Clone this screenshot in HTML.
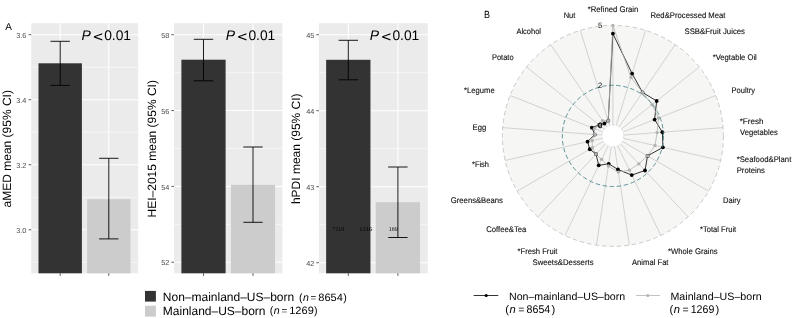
<!DOCTYPE html><html><head><meta charset="utf-8"><style>html,body{margin:0;padding:0;background:#fff;}svg{display:block;}text{font-family:"Liberation Sans", Arial, sans-serif;text-rendering:geometricPrecision;}</style></head><body>
<svg width="794" height="318" viewBox="0 0 794 318">
<rect width="794" height="318" fill="#fff"/>
<rect x="31.2" y="23.2" width="107.00" height="250.10" fill="#EBEBEB"/>
<line x1="31.2" x2="138.2" y1="67.21" y2="67.21" stroke="#fff" stroke-width="0.55"/>
<line x1="31.2" x2="138.2" y1="132.23" y2="132.23" stroke="#fff" stroke-width="0.55"/>
<line x1="31.2" x2="138.2" y1="197.25" y2="197.25" stroke="#fff" stroke-width="0.55"/>
<line x1="31.2" x2="138.2" y1="262.27" y2="262.27" stroke="#fff" stroke-width="0.55"/>
<line x1="31.2" x2="138.2" y1="34.70" y2="34.70" stroke="#fff" stroke-width="1.07"/>
<line x1="31.2" x2="138.2" y1="99.72" y2="99.72" stroke="#fff" stroke-width="1.07"/>
<line x1="31.2" x2="138.2" y1="164.74" y2="164.74" stroke="#fff" stroke-width="1.07"/>
<line x1="31.2" x2="138.2" y1="229.76" y2="229.76" stroke="#fff" stroke-width="1.07"/>
<line x1="60.2" x2="60.2" y1="23.2" y2="273.3" stroke="#fff" stroke-width="1.07"/>
<line x1="108.8" x2="108.8" y1="23.2" y2="273.3" stroke="#fff" stroke-width="1.07"/>
<rect x="38.50" y="63.3" width="43.40" height="210.00" fill="#333333"/>
<rect x="87.10" y="199.2" width="43.40" height="74.10" fill="#CCCCCC"/>
<path d="M50.50 41.3H69.90M60.2 41.3V85.4M50.50 85.4H69.90" stroke="#000" stroke-width="0.9" fill="none"/>
<path d="M99.10 158.3H118.50M108.8 158.3V238.9M99.10 238.9H118.50" stroke="#000" stroke-width="0.9" fill="none"/>
<text x="26.4" y="37.80" font-size="7.3" fill="#4D4D4D" text-anchor="end">3.6</text>
<line x1="28.6" x2="31.2" y1="34.70" y2="34.70" stroke="#333" stroke-width="0.8"/>
<text x="26.4" y="102.82" font-size="7.3" fill="#4D4D4D" text-anchor="end">3.4</text>
<line x1="28.6" x2="31.2" y1="99.72" y2="99.72" stroke="#333" stroke-width="0.8"/>
<text x="26.4" y="167.84" font-size="7.3" fill="#4D4D4D" text-anchor="end">3.2</text>
<line x1="28.6" x2="31.2" y1="164.74" y2="164.74" stroke="#333" stroke-width="0.8"/>
<text x="26.4" y="232.86" font-size="7.3" fill="#4D4D4D" text-anchor="end">3.0</text>
<line x1="28.6" x2="31.2" y1="229.76" y2="229.76" stroke="#333" stroke-width="0.8"/>
<line x1="60.2" x2="60.2" y1="273.3" y2="275.90" stroke="#333" stroke-width="0.8"/>
<line x1="108.8" x2="108.8" y1="273.3" y2="275.90" stroke="#333" stroke-width="0.8"/>
<text transform="translate(10.7,148.75) rotate(-90)" font-size="12" fill="#000" text-anchor="middle">aMED mean (95% CI)</text>
<text x="81.60" y="40" font-size="14" font-style="italic" fill="#000">P</text>
<text x="92.50" y="40.6" font-size="13.3" style="font-family:'DejaVu Sans',sans-serif" fill="#000">&lt;</text>
<text x="104.20" y="40" font-size="13.8" fill="#000">0.01</text>
<rect x="174.0" y="23.2" width="108.40" height="250.10" fill="#EBEBEB"/>
<line x1="174.0" x2="282.4" y1="72.63" y2="72.63" stroke="#fff" stroke-width="0.55"/>
<line x1="174.0" x2="282.4" y1="148.49" y2="148.49" stroke="#fff" stroke-width="0.55"/>
<line x1="174.0" x2="282.4" y1="224.35" y2="224.35" stroke="#fff" stroke-width="0.55"/>
<line x1="174.0" x2="282.4" y1="34.70" y2="34.70" stroke="#fff" stroke-width="1.07"/>
<line x1="174.0" x2="282.4" y1="110.56" y2="110.56" stroke="#fff" stroke-width="1.07"/>
<line x1="174.0" x2="282.4" y1="186.42" y2="186.42" stroke="#fff" stroke-width="1.07"/>
<line x1="174.0" x2="282.4" y1="262.28" y2="262.28" stroke="#fff" stroke-width="1.07"/>
<line x1="203.5" x2="203.5" y1="23.2" y2="273.3" stroke="#fff" stroke-width="1.07"/>
<line x1="253.0" x2="253.0" y1="23.2" y2="273.3" stroke="#fff" stroke-width="1.07"/>
<rect x="181.40" y="59.7" width="44.20" height="213.60" fill="#333333"/>
<rect x="230.90" y="184.8" width="44.20" height="88.50" fill="#CCCCCC"/>
<path d="M193.80 39.3H213.20M203.5 39.3V80.8M193.80 80.8H213.20" stroke="#000" stroke-width="0.9" fill="none"/>
<path d="M243.30 147.0H262.70M253.0 147.0V222.3M243.30 222.3H262.70" stroke="#000" stroke-width="0.9" fill="none"/>
<text x="169.4" y="37.80" font-size="7.3" fill="#4D4D4D" text-anchor="end">58</text>
<line x1="171.4" x2="174.0" y1="34.70" y2="34.70" stroke="#333" stroke-width="0.8"/>
<text x="169.4" y="113.66" font-size="7.3" fill="#4D4D4D" text-anchor="end">56</text>
<line x1="171.4" x2="174.0" y1="110.56" y2="110.56" stroke="#333" stroke-width="0.8"/>
<text x="169.4" y="189.52" font-size="7.3" fill="#4D4D4D" text-anchor="end">54</text>
<line x1="171.4" x2="174.0" y1="186.42" y2="186.42" stroke="#333" stroke-width="0.8"/>
<text x="169.4" y="265.38" font-size="7.3" fill="#4D4D4D" text-anchor="end">52</text>
<line x1="171.4" x2="174.0" y1="262.28" y2="262.28" stroke="#333" stroke-width="0.8"/>
<line x1="203.5" x2="203.5" y1="273.3" y2="275.90" stroke="#333" stroke-width="0.8"/>
<line x1="253.0" x2="253.0" y1="273.3" y2="275.90" stroke="#333" stroke-width="0.8"/>
<text transform="translate(155.7,148.75) rotate(-90)" font-size="12" fill="#000" text-anchor="middle">HEI–2015 mean (95% CI)</text>
<text x="225.80" y="40" font-size="14" font-style="italic" fill="#000">P</text>
<text x="236.70" y="40.6" font-size="13.3" style="font-family:'DejaVu Sans',sans-serif" fill="#000">&lt;</text>
<text x="248.40" y="40" font-size="13.8" fill="#000">0.01</text>
<rect x="318.9" y="23.2" width="108.90" height="250.10" fill="#EBEBEB"/>
<line x1="318.9" x2="427.8" y1="72.70" y2="72.70" stroke="#fff" stroke-width="0.55"/>
<line x1="318.9" x2="427.8" y1="148.70" y2="148.70" stroke="#fff" stroke-width="0.55"/>
<line x1="318.9" x2="427.8" y1="224.70" y2="224.70" stroke="#fff" stroke-width="0.55"/>
<line x1="318.9" x2="427.8" y1="34.70" y2="34.70" stroke="#fff" stroke-width="1.07"/>
<line x1="318.9" x2="427.8" y1="110.70" y2="110.70" stroke="#fff" stroke-width="1.07"/>
<line x1="318.9" x2="427.8" y1="186.70" y2="186.70" stroke="#fff" stroke-width="1.07"/>
<line x1="318.9" x2="427.8" y1="262.70" y2="262.70" stroke="#fff" stroke-width="1.07"/>
<line x1="348.3" x2="348.3" y1="23.2" y2="273.3" stroke="#fff" stroke-width="1.07"/>
<line x1="397.9" x2="397.9" y1="23.2" y2="273.3" stroke="#fff" stroke-width="1.07"/>
<rect x="326.15" y="59.8" width="44.30" height="213.50" fill="#333333"/>
<rect x="375.75" y="202.2" width="44.30" height="71.10" fill="#CCCCCC"/>
<path d="M338.60 40.3H358.00M348.3 40.3V79.8M338.60 79.8H358.00" stroke="#000" stroke-width="0.9" fill="none"/>
<path d="M388.20 167.0H407.60M397.9 167.0V237.5M388.20 237.5H407.60" stroke="#000" stroke-width="0.9" fill="none"/>
<text x="314.4" y="37.80" font-size="7.3" fill="#4D4D4D" text-anchor="end">45</text>
<line x1="316.3" x2="318.9" y1="34.70" y2="34.70" stroke="#333" stroke-width="0.8"/>
<text x="314.4" y="113.80" font-size="7.3" fill="#4D4D4D" text-anchor="end">44</text>
<line x1="316.3" x2="318.9" y1="110.70" y2="110.70" stroke="#333" stroke-width="0.8"/>
<text x="314.4" y="189.80" font-size="7.3" fill="#4D4D4D" text-anchor="end">43</text>
<line x1="316.3" x2="318.9" y1="186.70" y2="186.70" stroke="#333" stroke-width="0.8"/>
<text x="314.4" y="265.80" font-size="7.3" fill="#4D4D4D" text-anchor="end">42</text>
<line x1="316.3" x2="318.9" y1="262.70" y2="262.70" stroke="#333" stroke-width="0.8"/>
<line x1="348.3" x2="348.3" y1="273.3" y2="275.90" stroke="#333" stroke-width="0.8"/>
<line x1="397.9" x2="397.9" y1="273.3" y2="275.90" stroke="#333" stroke-width="0.8"/>
<text transform="translate(300.4,148.75) rotate(-90)" font-size="12" fill="#000" text-anchor="middle">hPDI mean (95% CI)</text>
<text x="369.80" y="40" font-size="14" font-style="italic" fill="#000">P</text>
<text x="380.70" y="40.6" font-size="13.3" style="font-family:'DejaVu Sans',sans-serif" fill="#000">&lt;</text>
<text x="392.40" y="40" font-size="13.8" fill="#000">0.01</text>
<text x="332.6" y="231.0" style="font-family:'Liberation Serif',serif" font-size="5.8" fill="#000" textLength="11.5" lengthAdjust="spacingAndGlyphs">7118</text>
<text x="359.3" y="231.0" style="font-family:'Liberation Serif',serif" font-size="5.8" fill="#000" textLength="13.1" lengthAdjust="spacingAndGlyphs">1316</text>
<text x="388.7" y="231.0" style="font-family:'Liberation Serif',serif" font-size="5.8" fill="#000" textLength="9.0" lengthAdjust="spacingAndGlyphs">189</text>
<text x="5.2" y="29.9" font-size="10" fill="#000">A</text>
<rect x="145" y="290.9" width="10.9" height="10.7" fill="#333333"/>
<rect x="145" y="305.7" width="10.9" height="10.9" fill="#CCCCCC"/>
<text x="162.8" y="300.7" font-size="12" fill="#000">Non–mainland–US–born</text>
<text x="298.90" y="300.9" font-size="10.6" fill="#000">(</text>
<text x="302.90" y="300.9" font-size="10.6" font-style="italic" fill="#000">n</text>
<text x="310.60" y="300.70" font-size="9.75" fill="#000">=</text>
<text x="318.30" y="300.9" font-size="10.6" fill="#000" textLength="24.60" lengthAdjust="spacingAndGlyphs">8654</text>
<text x="343.20" y="300.9" font-size="10.6" fill="#000">)</text>
<text x="269.80" y="314.3" font-size="10.6" fill="#000">(</text>
<text x="273.80" y="314.3" font-size="10.6" font-style="italic" fill="#000">n</text>
<text x="281.50" y="314.10" font-size="9.75" fill="#000">=</text>
<text x="289.20" y="314.3" font-size="10.6" fill="#000" textLength="24.60" lengthAdjust="spacingAndGlyphs">1269</text>
<text x="314.10" y="314.3" font-size="10.6" fill="#000">)</text>
<text x="162.8" y="314.8" font-size="12" fill="#000">Mainland–US–born</text>
<circle cx="612.9" cy="135.9" r="110.5" fill="#F6F6F5"/>
<path d="M612.90 125.00L612.90 25.40M616.11 125.48L645.47 30.31M619.04 126.89L675.15 44.60M621.42 129.10L699.29 67.00M623.05 131.92L715.76 95.53M623.77 135.09L723.09 127.64M623.53 138.33L720.63 160.49M622.34 141.35L708.60 191.15M620.31 143.89L688.06 216.90M617.63 145.72L660.84 235.46M614.52 146.68L629.37 245.17M611.28 146.68L596.43 245.17M608.17 145.72L564.96 235.46M605.49 143.89L537.74 216.90M603.46 141.35L517.20 191.15M602.27 138.33L505.17 160.49M602.03 135.09L502.71 127.64M602.75 131.92L510.04 95.53M604.38 129.10L526.51 67.00M606.76 126.89L550.65 44.60M609.69 125.48L580.33 30.31" stroke="#BEBEBE" stroke-width="0.65" fill="none"/>
<path d="M612.90 33.60L632.12 73.60L642.53 92.44L656.68 100.98L654.60 119.53L662.36 132.19L662.91 147.32L647.54 155.90L645.00 170.50L631.77 175.09L617.97 169.52L608.70 163.79L598.71 165.36L596.03 154.08L589.78 149.25L587.55 141.69L594.75 134.54L591.86 127.64L599.22 124.99L604.45 123.51L608.21 120.71Z" stroke="#000" stroke-width="0.8" fill="none" stroke-linejoin="round"/>
<path d="M612.90 25.40L630.94 77.42L642.53 92.44L652.07 104.66L658.51 118.00L657.08 132.59L655.02 145.51L647.54 155.90L638.81 163.83L629.39 170.14L618.35 172.09L608.35 166.06L601.62 159.33L596.03 154.08L592.38 147.75L592.13 140.64L594.75 134.54L594.38 128.63L599.22 124.99L602.53 120.70L608.21 120.71Z" stroke="#B3B3B3" stroke-width="0.8" fill="none" stroke-linejoin="round"/>
<circle cx="612.90" cy="33.60" r="1.9" fill="#000"/>
<circle cx="632.12" cy="73.60" r="1.9" fill="#000"/>
<circle cx="642.53" cy="92.44" r="1.9" fill="#000"/>
<circle cx="656.68" cy="100.98" r="1.9" fill="#000"/>
<circle cx="654.60" cy="119.53" r="1.9" fill="#000"/>
<circle cx="662.36" cy="132.19" r="1.9" fill="#000"/>
<circle cx="662.91" cy="147.32" r="1.9" fill="#000"/>
<circle cx="647.54" cy="155.90" r="1.9" fill="#000"/>
<circle cx="645.00" cy="170.50" r="1.9" fill="#000"/>
<circle cx="631.77" cy="175.09" r="1.9" fill="#000"/>
<circle cx="617.97" cy="169.52" r="1.9" fill="#000"/>
<circle cx="608.70" cy="163.79" r="1.9" fill="#000"/>
<circle cx="598.71" cy="165.36" r="1.9" fill="#000"/>
<circle cx="596.03" cy="154.08" r="1.9" fill="#000"/>
<circle cx="589.78" cy="149.25" r="1.9" fill="#000"/>
<circle cx="587.55" cy="141.69" r="1.9" fill="#000"/>
<circle cx="594.75" cy="134.54" r="1.9" fill="#000"/>
<circle cx="591.86" cy="127.64" r="1.9" fill="#000"/>
<circle cx="599.22" cy="124.99" r="1.9" fill="#000"/>
<circle cx="604.45" cy="123.51" r="1.9" fill="#000"/>
<circle cx="608.21" cy="120.71" r="1.9" fill="#000"/>
<circle cx="612.90" cy="25.40" r="1.7" fill="#B3B3B3"/>
<circle cx="630.94" cy="77.42" r="1.7" fill="#B3B3B3"/>
<circle cx="642.53" cy="92.44" r="1.7" fill="#B3B3B3"/>
<circle cx="652.07" cy="104.66" r="1.7" fill="#B3B3B3"/>
<circle cx="658.51" cy="118.00" r="1.7" fill="#B3B3B3"/>
<circle cx="657.08" cy="132.59" r="1.7" fill="#B3B3B3"/>
<circle cx="655.02" cy="145.51" r="1.7" fill="#B3B3B3"/>
<circle cx="647.54" cy="155.90" r="1.7" fill="#B3B3B3"/>
<circle cx="638.81" cy="163.83" r="1.7" fill="#B3B3B3"/>
<circle cx="629.39" cy="170.14" r="1.7" fill="#B3B3B3"/>
<circle cx="618.35" cy="172.09" r="1.7" fill="#B3B3B3"/>
<circle cx="608.35" cy="166.06" r="1.7" fill="#B3B3B3"/>
<circle cx="601.62" cy="159.33" r="1.7" fill="#B3B3B3"/>
<circle cx="596.03" cy="154.08" r="1.7" fill="#B3B3B3"/>
<circle cx="592.38" cy="147.75" r="1.7" fill="#B3B3B3"/>
<circle cx="592.13" cy="140.64" r="1.7" fill="#B3B3B3"/>
<circle cx="594.75" cy="134.54" r="1.7" fill="#B3B3B3"/>
<circle cx="594.38" cy="128.63" r="1.7" fill="#B3B3B3"/>
<circle cx="599.22" cy="124.99" r="1.7" fill="#B3B3B3"/>
<circle cx="602.53" cy="120.70" r="1.7" fill="#B3B3B3"/>
<circle cx="608.21" cy="120.71" r="1.7" fill="#B3B3B3"/>
<circle cx="612.9" cy="135.9" r="10.9" fill="#fff" stroke="#C8C8C8" stroke-width="0.5" stroke-dasharray="3 2"/>
<circle cx="612.9" cy="135.9" r="50.6" fill="none" stroke="#3E7A80" stroke-width="0.8" stroke-dasharray="4.5 2.6"/>
<circle cx="612.9" cy="135.9" r="110.5" fill="none" stroke="#B5B5B5" stroke-width="0.7" stroke-dasharray="4.5 3"/>
<text x="602.4" y="28.20" font-size="7.8" fill="#111" text-anchor="end">5</text>
<text x="602.4" y="88.10" font-size="7.8" fill="#111" text-anchor="end">2</text>
<text x="602.4" y="127.80" font-size="7.8" fill="#111" text-anchor="end" stroke="#000" stroke-width="0.35">0</text>
<text x="587.7" y="12.1" font-size="8.1" fill="#111" stroke="#111" stroke-width="0.12" textLength="50.7" lengthAdjust="spacingAndGlyphs">*Refined Grain</text>
<text x="650.5" y="17.7" font-size="8.1" fill="#111" stroke="#111" stroke-width="0.12" textLength="75.0" lengthAdjust="spacingAndGlyphs">Red&amp;Processed Meat</text>
<text x="684.5" y="33.9" font-size="8.1" fill="#111" stroke="#111" stroke-width="0.12" textLength="60.5" lengthAdjust="spacingAndGlyphs">SSB&amp;Fruit Juices</text>
<text x="712.7" y="60.3" font-size="8.1" fill="#111" stroke="#111" stroke-width="0.12" textLength="44.1" lengthAdjust="spacingAndGlyphs">*Vegtable Oil</text>
<text x="731.6" y="93.0" font-size="8.1" fill="#111" stroke="#111" stroke-width="0.12" textLength="23.4" lengthAdjust="spacingAndGlyphs">Poultry</text>
<text x="739.7" y="123.9" font-size="8.1" fill="#111" stroke="#111" stroke-width="0.12">*Fresh</text>
<text x="740.0" y="135.3" font-size="8.1" fill="#111" stroke="#111" stroke-width="0.12" textLength="37.7" lengthAdjust="spacingAndGlyphs">Vegetables</text>
<text x="736.7" y="162.0" font-size="8.1" fill="#111" stroke="#111" stroke-width="0.12" textLength="54.6" lengthAdjust="spacingAndGlyphs">*Seafood&amp;Plant</text>
<text x="736.7" y="173.0" font-size="8.1" fill="#111" stroke="#111" stroke-width="0.12" textLength="28.3" lengthAdjust="spacingAndGlyphs">Proteins</text>
<text x="723.0" y="202.6" font-size="8.1" fill="#111" stroke="#111" stroke-width="0.12" textLength="17.6" lengthAdjust="spacingAndGlyphs">Dairy</text>
<text x="700.0" y="232.0" font-size="8.1" fill="#111" stroke="#111" stroke-width="0.12" textLength="36.2" lengthAdjust="spacingAndGlyphs">*Total Fruit</text>
<text x="668.0" y="253.5" font-size="8.1" fill="#111" stroke="#111" stroke-width="0.12" textLength="49.6" lengthAdjust="spacingAndGlyphs">*Whole Grains</text>
<text x="632.0" y="264.8" font-size="8.1" fill="#111" stroke="#111" stroke-width="0.12" textLength="36.5" lengthAdjust="spacingAndGlyphs">Animal Fat</text>
<text x="532.5" y="264.7" font-size="8.1" fill="#111" stroke="#111" stroke-width="0.12" textLength="61.0" lengthAdjust="spacingAndGlyphs">Sweets&amp;Desserts</text>
<text x="517.5" y="253.5" font-size="8.1" fill="#111" stroke="#111" stroke-width="0.12" textLength="40.0" lengthAdjust="spacingAndGlyphs">*Fresh Fruit</text>
<text x="486.2" y="232.3" font-size="8.1" fill="#111" stroke="#111" stroke-width="0.12" textLength="40.2" lengthAdjust="spacingAndGlyphs">Coffee&amp;Tea</text>
<text x="450.8" y="202.6" font-size="8.1" fill="#111" stroke="#111" stroke-width="0.12" textLength="52.1" lengthAdjust="spacingAndGlyphs">Greens&amp;Beans</text>
<text x="472.0" y="166.6" font-size="8.1" fill="#111" stroke="#111" stroke-width="0.12" textLength="17.0" lengthAdjust="spacingAndGlyphs">*Fish</text>
<text x="472.6" y="129.8" font-size="8.1" fill="#111" stroke="#111" stroke-width="0.12" textLength="13.6" lengthAdjust="spacingAndGlyphs">Egg</text>
<text x="464.1" y="92.9" font-size="8.1" fill="#111" stroke="#111" stroke-width="0.12" textLength="30.6" lengthAdjust="spacingAndGlyphs">*Legume</text>
<text x="491.9" y="59.8" font-size="8.1" fill="#111" stroke="#111" stroke-width="0.12" textLength="21.7" lengthAdjust="spacingAndGlyphs">Potato</text>
<text x="516.4" y="33.9" font-size="8.1" fill="#111" stroke="#111" stroke-width="0.12" textLength="24.6" lengthAdjust="spacingAndGlyphs">Alcohol</text>
<text x="563.7" y="17.7" font-size="8.1" fill="#111" stroke="#111" stroke-width="0.12" textLength="11.7" lengthAdjust="spacingAndGlyphs">Nut</text>
<text x="483.9" y="17.6" font-size="10.4" fill="#000" textLength="6.0" lengthAdjust="spacingAndGlyphs">B</text>
<line x1="473.7" x2="498.3" y1="295.5" y2="295.5" stroke="#000" stroke-width="0.8"/>
<circle cx="486.2" cy="295.5" r="1.6" fill="#000"/>
<line x1="635.9" x2="660" y1="295.5" y2="295.5" stroke="#B3B3B3" stroke-width="0.8"/>
<circle cx="647.8" cy="295.5" r="1.6" fill="#B3B3B3"/>
<text x="509" y="300.2" font-size="10.6" fill="#000" textLength="116.2" lengthAdjust="spacingAndGlyphs">Non–mainland–US–born</text>
<text x="505.30" y="313.0" font-size="11.2" fill="#000">(</text>
<text x="509.60" y="313.0" font-size="11.2" font-style="italic" fill="#000">n</text>
<text x="518.30" y="312.80" font-size="10.5" fill="#000">=</text>
<text x="526.60" y="313.0" font-size="11.2" fill="#000" textLength="23.60" lengthAdjust="spacingAndGlyphs">8654</text>
<text x="551.50" y="313.0" font-size="11.2" fill="#000">)</text>
<text x="670.5" y="300.2" font-size="10.6" fill="#000" textLength="91.1" lengthAdjust="spacingAndGlyphs">Mainland–US–born</text>
<text x="669.40" y="313.0" font-size="11.2" fill="#000">(</text>
<text x="673.70" y="313.0" font-size="11.2" font-style="italic" fill="#000">n</text>
<text x="682.40" y="312.80" font-size="10.5" fill="#000">=</text>
<text x="690.70" y="313.0" font-size="11.2" fill="#000" textLength="23.60" lengthAdjust="spacingAndGlyphs">1269</text>
<text x="715.60" y="313.0" font-size="11.2" fill="#000">)</text>
</svg></body></html>
